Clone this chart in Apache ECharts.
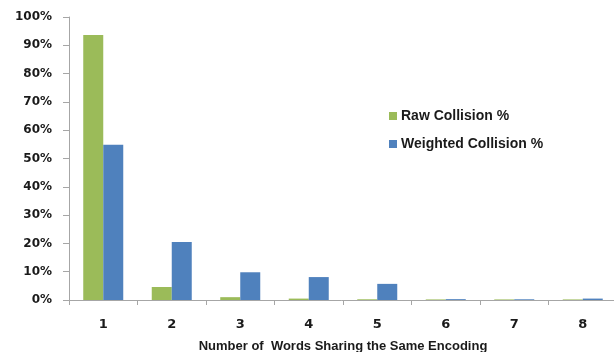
<!DOCTYPE html>
<html><head><meta charset="utf-8">
<script src="https://cdn.jsdelivr.net/npm/echarts@6/dist/echarts.min.js"></script>
<style>html,body{margin:0;padding:0;background:#fff}#c{width:614px;height:352px}</style>
</head><body><div id="c"></div>
<script>
const categories = ['1','2','3','4','5','6','7','8'];
const rawCollision = [93.6, 4.6, 1.0, 0.5, 0.25, 0.2, 0.2, 0.2];
const weightedCollision = [54.9, 20.5, 9.8, 8.1, 5.7, 0.3, 0.25, 0.5];
const seriesNames = ['Raw Collision %', 'Weighted Collision %'];
const xAxisTitle = 'Number of  Words Sharing the Same Encoding';

const chart = echarts.init(document.getElementById('c'), null, {renderer:'canvas'});
chart.setOption({
  animation:false,
  backgroundColor:'#fff',
  grid:{left:69, top:17, bottom:52, right:-3, containLabel:false, outerBoundsMode:'none'},
  legend:{
    orient:'vertical', left:384, top:104, itemWidth:8, itemHeight:8, itemGap:14,
    icon:'rect',
    textStyle:{fontFamily:'Liberation Sans', fontWeight:'bold', fontSize:14, color:'#1a1a1a', padding:[0,0,0,-1]},
    data:seriesNames
  },
  xAxis:{
    type:'category', data:categories,
    axisLine:{lineStyle:{color:'#a6a6a6', width:1}},
    axisTick:{show:true, length:5, inside:false, lineStyle:{color:'#a6a6a6'}},
    axisLabel:{fontFamily:'DejaVu Sans', fontWeight:'bold', fontSize:13, color:'#1a1a1a', margin:18},
    name:xAxisTitle, nameLocation:'middle', nameGap:40,
    nameTextStyle:{fontFamily:'Liberation Sans', fontWeight:'bold', fontSize:13, color:'#1a1a1a'}
  },
  yAxis:{
    type:'value', min:0, max:100, interval:10,
    axisLine:{show:true, lineStyle:{color:'#a6a6a6'}},
    axisTick:{show:true, length:6, lineStyle:{color:'#a6a6a6'}},
    splitLine:{show:false},
    axisLabel:{formatter:'{value}%', fontFamily:'DejaVu Sans', fontWeight:'bold', fontSize:12, color:'#1a1a1a', margin:17}
  },
  series:[
    {name:seriesNames[0], type:'bar', data:rawCollision, barGap:'0%', barCategoryGap:'41.6%',
     itemStyle:{color:'#9BBB59'}},
    {name:seriesNames[1], type:'bar', data:weightedCollision, barGap:'0%', barCategoryGap:'41.6%',
     itemStyle:{color:'#4F81BD'}}
  ]
});
</script></body></html>
